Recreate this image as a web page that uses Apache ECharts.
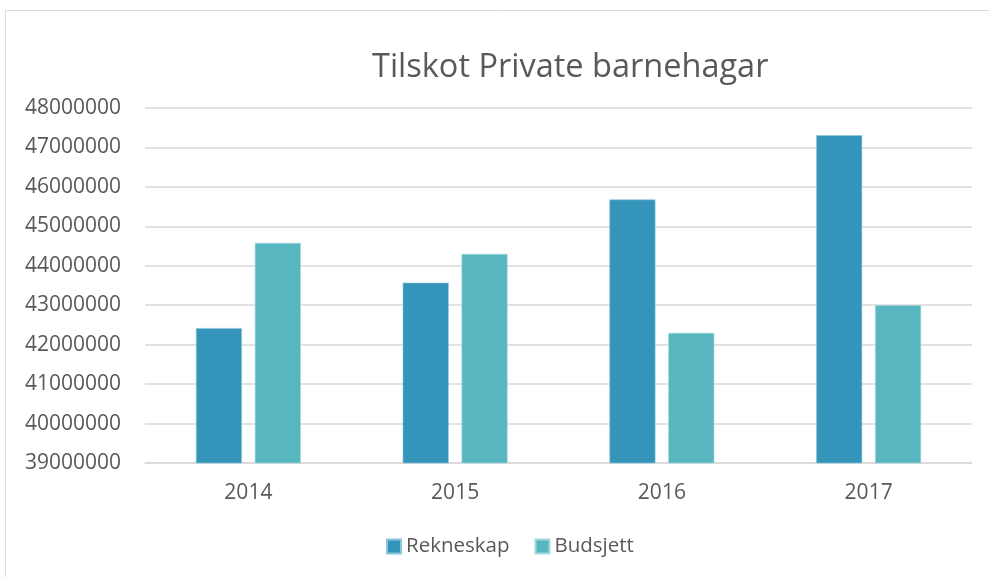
<!DOCTYPE html>
<html>
<head>
<meta charset="utf-8">
<script src="https://cdn.jsdelivr.net/npm/echarts@6/dist/echarts.min.js"></script>
<style>
  html, body { margin: 0; padding: 0; background: #fff; }
  #chart { width: 989px; height: 577px; }
</style>
</head>
<body>
<div id="chart"></div>
<script>
const years = ['2014', '2015', '2016', '2017']
const rekneskap = [42420000, 43570000, 45680000, 47310000]
const budsjett = [44580000, 44300000, 42300000, 43000000]

const textColor = '#595959'
const font = '"Open Sans", "Noto Sans", sans-serif'

const chart = echarts.init(document.getElementById('chart'))
chart.setOption({
  animation: false,
  textStyle: { fontFamily: font },
  graphic: [{
    type: 'rect',
    shape: { x: 5.5, y: 10.5, width: 1100, height: 700 },
    style: { fill: 'none', stroke: '#d9d9d9', lineWidth: 1 },
    silent: true
  }],
  title: {
    text: 'Tilskot Private barnehagar',
    left: 372,
    top: 51,
    padding: 0,
    textStyle: { color: textColor, fontSize: 32.5, fontWeight: 'normal', fontFamily: font }
  },
  legend: {
    data: ['Rekneskap', 'Budsjett'],
    left: 386,
    top: 536,
    padding: 0,
    icon: 'rect',
    itemWidth: 14,
    itemHeight: 14,
    itemGap: 25,
    textStyle: { color: textColor, fontSize: 20.5, fontFamily: font }
  },
  grid: { left: 145, right: 17, top: 108, bottom: 114 },
  xAxis: {
    type: 'category',
    data: years,
    axisLine: { lineStyle: { color: '#d9d9d9', width: 1.5 } },
    axisTick: { show: false },
    axisLabel: { color: textColor, fontSize: 21, margin: 20, fontFamily: font }
  },
  yAxis: {
    type: 'value',
    min: 39000000,
    max: 48000000,
    interval: 1000000,
    axisLine: { show: false },
    axisTick: { show: false },
    axisLabel: {
      color: textColor,
      fontSize: 21,
      margin: 24,
      fontFamily: font,
      formatter: (v) => String(v)
    },
    splitLine: { lineStyle: { color: '#d9d9d9', width: 1.5 } }
  },
  series: [
    {
      name: 'Rekneskap',
      type: 'bar',
      data: rekneskap,
      barWidth: 46,
      barGap: '28%',
      itemStyle: { color: '#3494BA', borderColor: '#8cc6dc', borderWidth: 0.6 }
    },
    {
      name: 'Budsjett',
      type: 'bar',
      data: budsjett,
      barWidth: 46,
      itemStyle: { color: '#58B6C0', borderColor: '#a4d8dd', borderWidth: 0.6 }
    }
  ]
})
</script>
</body>
</html>
